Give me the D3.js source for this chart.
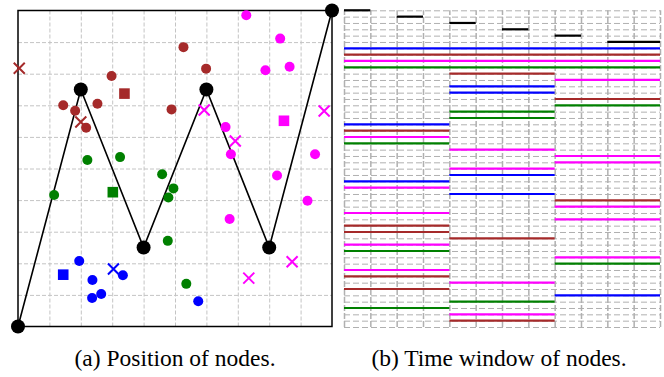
<!DOCTYPE html>
<html>
<head>
<meta charset="utf-8">
<script src="https://cdn.jsdelivr.net/npm/d3@7"></script>
<style>
  body { margin: 0; background: #fff; }
  .caption { font-family: "Liberation Serif", "Times New Roman", serif; font-size: 23.5px; fill: #000; }
  .grid .domain { display: none; }
</style>
</head>
<body>
<svg id="fig" width="664" height="377"></svg>
<script>
// route nodes (black) and their time windows
const routeX = [0, 2, 4, 6, 8, 10];
const routeY = [0, 7.5, 2.5, 7.5, 2.5, 10];
const routeOpen = [0, 2, 4, 6, 8, 10];
const routeClose = [1, 3, 5, 7, 9, 12];

// cluster colours
const groupColor = { blue: "#0000ff", brown: "#a52a2a", magenta: "#ff00ff", green: "#008000" };

// one square per cluster
const squareGroup = ["blue", "brown", "magenta", "green"];
const squareX = [1.44, 3.39, 8.47, 3.02];
const squareY = [1.64, 7.37, 6.51, 4.25];

// circle nodes
const circleGroup = [
  "brown", "brown", "brown", "brown", "brown", "brown", "brown", "brown",
  "magenta", "magenta", "magenta", "magenta", "magenta", "magenta", "magenta", "magenta", "magenta", "magenta",
  "green", "green", "green", "green", "green", "green", "green", "green",
  "blue", "blue", "blue", "blue", "blue", "blue"
];
const circleX = [
  2.98, 1.44, 1.82, 2.53, 2.17, 4.89, 5.27, 5.99,
  7.27, 8.35, 7.88, 8.65, 6.61, 6.78, 9.46, 8.25, 9.22, 6.74,
  2.21, 3.25, 1.15, 4.59, 4.95, 4.79, 4.77, 5.36,
  1.95, 2.37, 3.34, 2.36, 2.65, 5.74
];
const circleY = [
  7.93, 7.00, 6.83, 7.05, 6.29, 6.87, 8.84, 8.16,
  9.85, 9.11, 8.11, 8.22, 6.31, 5.45, 5.45, 4.78, 3.98, 3.40,
  5.27, 5.36, 4.16, 4.82, 4.37, 4.08, 2.71, 1.35,
  2.07, 1.47, 1.62, 0.90, 1.03, 0.80
];

// cross nodes
const crossGroup = ["brown", "brown", "magenta", "magenta", "magenta", "magenta", "magenta", "blue"];
const crossX = [0.04, 2.00, 5.93, 9.75, 6.92, 7.35, 8.73, 3.04];
const crossY = [8.17, 6.47, 6.85, 6.82, 5.87, 1.53, 2.05, 1.82];

// time windows of the other nodes, one row each, below the route rows
const windowGroup = [
  "blue", "brown", "magenta", "green", "brown", "magenta", "blue", "blue", "brown", "green",
  "green", "green", "blue", "brown", "magenta", "green", "magenta", "magenta", "magenta", "magenta",
  "blue", "blue", "magenta", "blue", "brown", "magenta", "magenta", "magenta", "brown", "brown",
  "brown", "magenta", "green", "magenta", "green", "magenta", "brown", "magenta", "brown", "blue",
  "green", "green", "magenta", "brown"
];
const windowOpen = [
  0, 0, 0, 0, 4, 8, 4, 4, 8, 8,
  4, 4, 0, 0, 0, 0, 4, 8, 8, 4,
  4, 0, 0, 4, 8, 8, 0, 8, 0, 0,
  4, 0, 0, 8, 8, 0, 0, 4, 0, 8,
  4, 0, 4, 4
];
const windowClose = windowOpen.map((o, i) => i < 4 ? 12 : o + 4);

const svg = d3.select("#fig");

// ---------- (a) position of nodes ----------
const xA = d3.scaleLinear([0, 10], [18, 332]);
const yA = d3.scaleLinear([0, 10], [326.5, 10.5]);
const left = svg.append("g");

left.append("g")
  .attr("class", "grid")
  .attr("transform", `translate(0,${yA(0)})`)
  .call(d3.axisBottom(xA).tickValues(d3.range(1, 10)).tickSize(-(yA(0) - yA(10))).tickFormat(""))
  .selectAll("line").attr("stroke", "#c4c4c4").attr("stroke-dasharray", "4,2");
left.append("g")
  .attr("class", "grid")
  .attr("transform", `translate(${xA(0)},0)`)
  .call(d3.axisLeft(yA).tickValues(d3.range(1, 10)).tickSize(-(xA(10) - xA(0))).tickFormat(""))
  .selectAll("line").attr("stroke", "#c4c4c4").attr("stroke-dasharray", "4,2");

left.append("rect")
  .attr("x", xA(0)).attr("y", yA(10))
  .attr("width", xA(10) - xA(0)).attr("height", yA(0) - yA(10))
  .attr("fill", "none").attr("stroke", "#000").attr("stroke-width", 1.5);

left.append("path")
  .datum(d3.zip(routeX, routeY))
  .attr("d", d3.line(d => xA(d[0]), d => yA(d[1])))
  .attr("fill", "none").attr("stroke", "#000").attr("stroke-width", 1.6);

left.selectAll("circle.node")
  .data(circleX.map((x, i) => ({ x, y: circleY[i], g: circleGroup[i] })))
  .join("circle").attr("class", "node")
  .attr("cx", d => xA(d.x)).attr("cy", d => yA(d.y)).attr("r", 5)
  .attr("fill", d => groupColor[d.g]);

left.selectAll("rect.center")
  .data(squareX.map((x, i) => ({ x, y: squareY[i], g: squareGroup[i] })))
  .join("rect").attr("class", "center")
  .attr("x", d => xA(d.x) - 5.3).attr("y", d => yA(d.y) - 5.3)
  .attr("width", 10.6).attr("height", 10.6)
  .attr("fill", d => groupColor[d.g]);

left.selectAll("path.cross")
  .data(crossX.map((x, i) => ({ x, y: crossY[i], g: crossGroup[i] })))
  .join("path").attr("class", "cross")
  .attr("transform", d => `translate(${xA(d.x)},${yA(d.y)})`)
  .attr("d", "M-5.5,-5.5L5.5,5.5M-5.5,5.5L5.5,-5.5")
  .attr("stroke", d => groupColor[d.g]).attr("stroke-width", 2).attr("fill", "none");

left.selectAll("circle.route")
  .data(d3.zip(routeX, routeY))
  .join("circle").attr("class", "route")
  .attr("cx", d => xA(d[0])).attr("cy", d => yA(d[1])).attr("r", 7)
  .attr("fill", "#000");

// ---------- (b) time window of nodes ----------
const xB = d3.scaleLinear([0, 12], [344, 660]);
const yB = d3.scaleLinear([0, 50], [10.3, 327]);
const right = svg.append("g");

right.append("g")
  .attr("class", "grid")
  .attr("transform", `translate(0,${yB(50)})`)
  .call(d3.axisBottom(xB).tickValues(d3.range(0, 13)).tickSize(-(yB(50) - yB(0))).tickFormat(""))
  .selectAll("line").attr("stroke", "#b0b0b0").attr("stroke-width", 1.5).attr("stroke-dasharray", "6,2");
right.append("g")
  .attr("class", "grid")
  .attr("transform", `translate(${xB(0)},0)`)
  .call(d3.axisLeft(yB).tickValues(d3.range(0, 51)).tickSize(-(xB(12) - xB(0))).tickFormat(""))
  .selectAll("line").attr("stroke", "#b0b0b0").attr("stroke-dasharray", "6,3");

const rows = routeOpen.map((o, i) => ({ open: o, close: routeClose[i], color: "#000" }))
  .concat(windowOpen.map((o, i) => ({ open: o, close: windowClose[i], color: groupColor[windowGroup[i]] })));

right.selectAll("line.window")
  .data(rows)
  .join("line").attr("class", "window")
  .attr("x1", d => xB(d.open)).attr("x2", d => xB(d.close))
  .attr("y1", (d, i) => yB(i)).attr("y2", (d, i) => yB(i))
  .attr("stroke", d => d.color).attr("stroke-width", 2.2);

// ---------- captions ----------
svg.append("text").attr("class", "caption")
  .attr("x", (xA(0) + xA(10)) / 2).attr("y", 366).attr("text-anchor", "middle")
  .text("(a) Position of nodes.");
svg.append("text").attr("class", "caption")
  .attr("x", 499).attr("y", 366).attr("text-anchor", "middle")
  .text("(b) Time window of nodes.");
</script>
</body>
</html>
